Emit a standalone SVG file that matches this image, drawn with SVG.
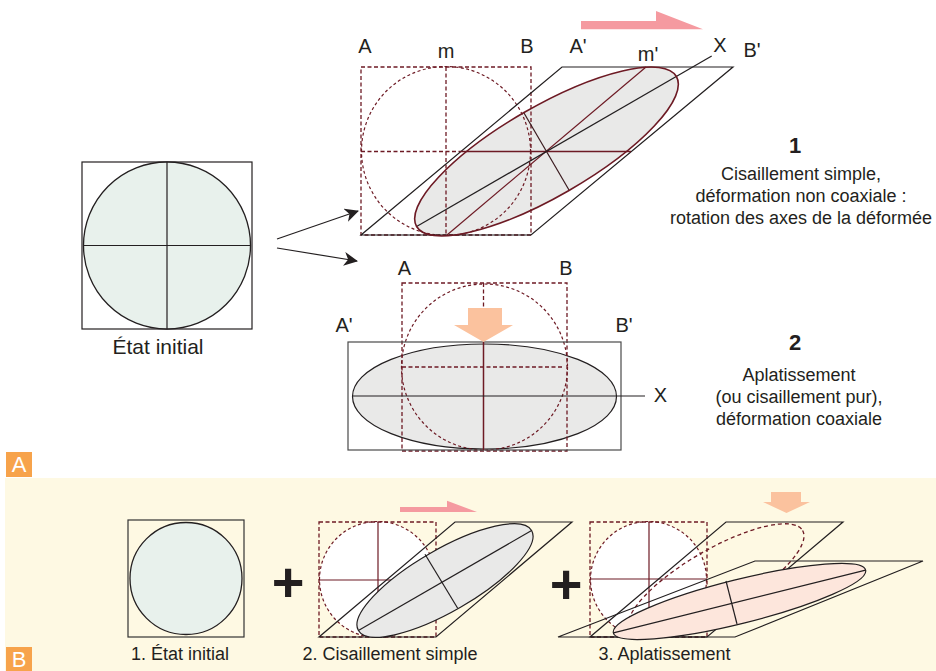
<svg xmlns="http://www.w3.org/2000/svg" width="936" height="671" viewBox="0 0 936 671">
<defs>
<style>
text{font-family:"Liberation Sans",Arial,sans-serif;fill:#231f20}
.lbl{font-size:20px;text-anchor:middle}
.cap{font-size:18px;text-anchor:middle}
.num{font-size:22px;font-weight:bold;text-anchor:middle}
.ln{fill:none;stroke:#231f20;stroke-width:1.2}
.rd{fill:none;stroke:#6d1a24;stroke-width:1.2}
.dsq{fill:none;stroke:#6d1a24;stroke-width:1.3;stroke-dasharray:4 2.5}
.dci{stroke:#6d1a24;stroke-width:1.2;stroke-dasharray:3 2.5}
.init{fill:#e8f1ec;stroke:#231f20;stroke-width:1.3}
.gray{fill:#e9e9e8}
.pink{fill:#f59aa0}
.peach{fill:#fbc29e}
.tag{fill:#f7a34b}
.tagt{font-size:22px;fill:#fff;text-anchor:middle}
</style>
<marker id="ah" viewBox="0 0 14 14" refX="13" refY="7" markerWidth="14" markerHeight="14" markerUnits="userSpaceOnUse" orient="auto">
<path d="M0,0 L14,7 L0,14 L4,7 z" fill="#231f20"/>
</marker>
</defs>
<rect x="0" y="0" width="936" height="671" fill="#fff"/>
<rect x="5" y="478" width="931" height="193" fill="#fef9e3"/>

<g id="tagA"><rect class="tag" x="6" y="452" width="26" height="25"/><text class="tagt" x="19" y="472">A</text></g>
<g id="tagB"><rect class="tag" x="6" y="647" width="26" height="24"/><text class="tagt" x="19" y="667">B</text></g>

<g id="initial">
<rect class="ln" x="82" y="162" width="170" height="167"/>
<circle class="init" cx="167" cy="245.5" r="83.5"/>
<line class="ln" x1="167" y1="162" x2="167" y2="329"/>
<line class="ln" x1="83" y1="245.5" x2="251" y2="245.5"/>
<text class="lbl" x="158" y="354" style="font-size:21px">État initial</text>
</g>

<g id="connectors">
<line class="ln" x1="277" y1="239" x2="358" y2="211" marker-end="url(#ah)"/>
<line class="ln" x1="277" y1="248" x2="357" y2="261" marker-end="url(#ah)"/>
</g>

<g id="shear">
<polygon class="pink" points="581,21 656,21 656,11 703,29.3 581,29.3"/>
<ellipse class="gray" cx="546.5" cy="151.5" rx="150" ry="45" transform="rotate(-30 546.5 151.5)"/>
<circle class="dci" cx="446" cy="151" r="84.5" fill="none"/>
<rect class="dsq" x="361" y="67" width="170" height="168"/>
<line class="dsq" x1="446" y1="67" x2="446" y2="235"/>
<line class="dsq" x1="361" y1="151.5" x2="460" y2="151.5"/>
<polygon class="ln" points="361,235 531,235 733,67 562,67"/>
<line class="rd" x1="460" y1="151.5" x2="631" y2="151.5" style="stroke-width:1.5"/>
<line class="rd" x1="447" y1="235" x2="646" y2="67"/>
<line class="ln" x1="416.6" y1="226.5" x2="711.7" y2="56"/>
<line class="ln" x1="524" y1="113" x2="569" y2="190" style="stroke:#3a1a1e"/>
<ellipse cx="546.5" cy="151.5" rx="150" ry="45" transform="rotate(-30 546.5 151.5)" fill="none" stroke="#6d1a24" stroke-width="1.6"/>
<text class="lbl" x="365" y="53">A</text>
<text class="lbl" x="446" y="58">m</text>
<text class="lbl" x="527" y="53">B</text>
<text class="lbl" x="578" y="53">A'</text>
<text class="lbl" x="648" y="61">m'</text>
<text class="lbl" x="720" y="52">X</text>
<text class="lbl" x="752" y="57">B'</text>
</g>

<g id="flatten">
<ellipse class="gray" cx="484.5" cy="396.5" rx="132" ry="52.5" stroke="#231f20" stroke-width="1.2"/>
<circle class="dci" cx="484.5" cy="367" r="83" fill="none"/>
<rect class="dsq" x="402" y="283" width="165" height="168"/>
<line class="dsq" x1="483.5" y1="283" x2="483.5" y2="310"/>
<line class="dsq" x1="402" y1="367" x2="563" y2="367"/>
<rect class="ln" x="348" y="342" width="273" height="108" style="stroke:#4a4a4a"/>
<line class="rd" x1="483.5" y1="342" x2="483.5" y2="450" style="stroke-width:1.5"/>
<line class="ln" x1="352" y1="396" x2="645" y2="396"/>
<polygon class="peach" points="468,308 502,308 502,325 513,325 483.5,342 454,325 468,325"/>
<text class="lbl" x="404.5" y="275">A</text>
<text class="lbl" x="566" y="275">B</text>
<text class="lbl" x="344" y="332">A'</text>
<text class="lbl" x="624" y="332">B'</text>
<text class="lbl" x="660.5" y="402">X</text>
</g>

<g id="text1">
<text class="num" x="795" y="153">1</text>
<text class="cap" x="801" y="180">Cisaillement simple,</text>
<text class="cap" x="801" y="202">déformation non coaxiale :</text>
<text class="cap" x="801" y="224">rotation des axes de la déformée</text>
</g>
<g id="text2">
<text class="num" x="795" y="350">2</text>
<text class="cap" x="799" y="381">Aplatissement</text>
<text class="cap" x="799" y="403">(ou cisaillement pur),</text>
<text class="cap" x="799" y="425">déformation coaxiale</text>
</g>

<g id="b1">
<rect class="ln" x="128" y="520" width="116" height="117" style="stroke:#333"/>
<circle class="init" cx="186" cy="578.5" r="56"/>
<text class="cap" x="180" y="660">1. État initial</text>
</g>
<text id="plus1" x="288" y="601" style="font-size:56px;font-weight:bold;text-anchor:middle">+</text>

<g id="b2">
<polygon class="pink" points="400,507 447,507 447,500.7 477,512 400,512"/>
<circle class="dci" cx="377.5" cy="579.5" r="58" fill="#fff"/>
<line class="rd" x1="378" y1="522" x2="378" y2="637"/>
<line class="rd" x1="319" y1="580" x2="436" y2="580"/>
<rect class="dsq" x="319" y="522" width="117" height="115"/>
<polygon class="ln" points="319,637 436,637 572,522 455,522"/>
<ellipse class="gray" cx="445" cy="580.5" rx="100" ry="31" transform="rotate(-30 445 580.5)" stroke="#231f20" stroke-width="1.2"/>
<line class="ln" x1="358.4" y1="630.5" x2="531.6" y2="530.5"/>
<line class="ln" x1="425" y1="554.3" x2="457.7" y2="608.3"/>
<text class="cap" x="390" y="660">2. Cisaillement simple</text>
</g>
<text id="plus2" x="566" y="603" style="font-size:56px;font-weight:bold;text-anchor:middle">+</text>

<g id="b3">
<polygon class="peach" points="771,492 801,492 801,502 810,502 786.5,513 763,502 771,502"/>
<circle class="dci" cx="648.5" cy="579.5" r="58" fill="#fff"/>
<line class="rd" x1="649" y1="522" x2="649" y2="637"/>
<line class="rd" x1="590" y1="579" x2="707" y2="579"/>
<rect class="dsq" x="590" y="522" width="117" height="115"/>
<polygon class="ln" points="590,637 707,637 843,522 726,522"/>
<ellipse cx="716" cy="580.5" rx="100" ry="31" transform="rotate(-30 716 580.5)" class="dci" fill="none" style="stroke-width:1.3;stroke-dasharray:4 3"/>
<polygon class="ln" points="558,637 735,637 923,561 755,561"/>
<ellipse cx="739.5" cy="601.5" rx="130" ry="22" transform="rotate(-14 739.5 601.5)" fill="#fde6dc" stroke="#231f20" stroke-width="1.2"/>
<line class="ln" x1="613.4" y1="632.9" x2="865.6" y2="570.1"/>
<line class="ln" x1="726" y1="581" x2="737" y2="624"/>
<text class="cap" x="664.5" y="660">3. Aplatissement</text>
</g>
</svg>
